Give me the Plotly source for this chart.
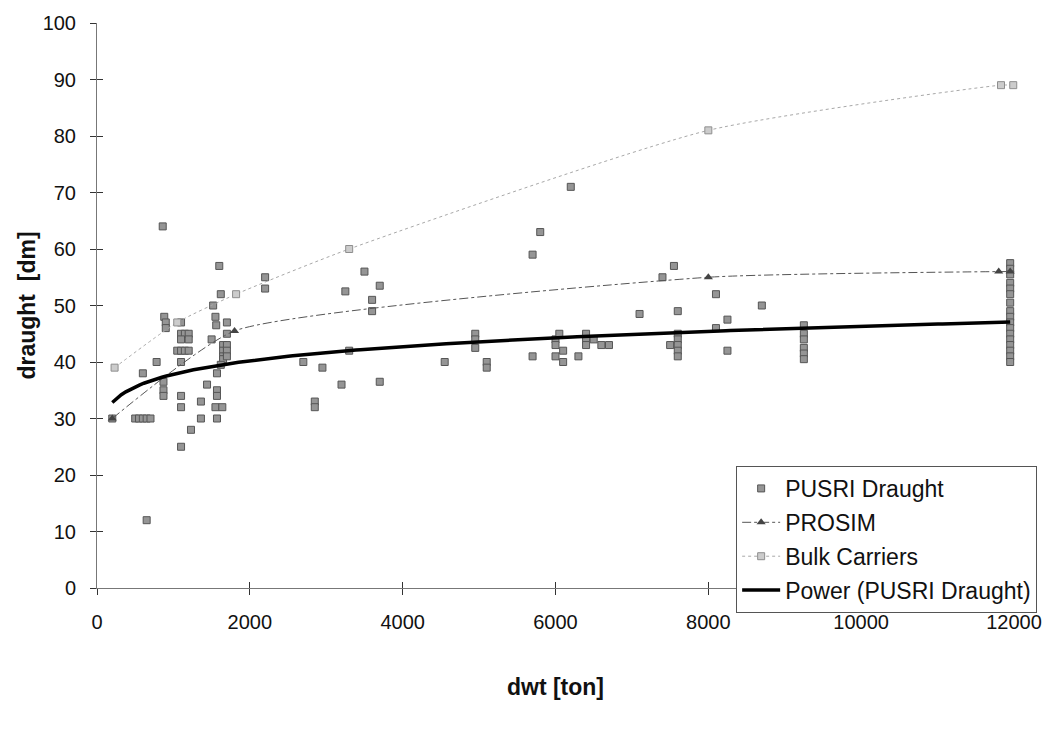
import numpy as np
import plotly.graph_objects as go

# PUSRI fleet: deadweight [ton] and draught [dm]
pusri_dwt = [
    200, 500, 550, 600, 650, 700, 650, 600, 780, 860,
    880, 900, 900, 870, 870, 870, 1100, 1100, 1150, 1200,
    1100, 1200, 1050, 1100, 1150, 1200, 1100, 1100, 1100, 1100,
    1230, 1360, 1360, 1440, 1520, 1550, 1560, 1500, 1600, 1620,
    1650, 1650, 1650, 1650, 1620, 1570, 1570, 1570, 1550, 1570,
    1640, 1700, 1700, 1700, 1700, 1700, 2200, 2200,
    2700, 2850, 2850, 2950, 3200, 3250, 3300, 3500, 3600, 3600,
    3700, 3700, 4550, 4950, 4950, 4950, 5100, 5100, 5700, 5800,
    5700, 6000, 6000, 6050, 6000, 6100, 6100, 6200, 6300, 6400,
    6400, 6400, 6500, 6600, 6700, 7100, 7400, 7500, 7550, 7600,
    7600, 7600, 7600, 7600, 7600, 8100, 8100, 8250, 8250, 8700,
    9250, 9250, 9250, 9250, 9250, 9250,
    11950, 11950, 11950, 11950, 11950, 11950, 11950, 11950, 11950, 11950,
    11950, 11950, 11950, 11950, 11950, 11950, 11950,
]
pusri_draught = [
    30, 30, 30, 30, 30, 30, 12, 38, 40, 64,
    48, 47, 46, 36.5, 35, 34, 47, 45, 45, 45,
    44, 44, 42, 42, 42, 42, 40, 34, 32, 25,
    28, 33, 30, 36, 50, 48, 46.5, 44, 57, 52,
    43, 42, 41, 40.5, 39.5, 38, 35, 34, 32, 30,
    32, 47, 45, 43, 42, 41, 55, 53,
    40, 33, 32, 39, 36, 52.5, 42, 56, 51, 49,
    53.5, 36.5, 40, 45, 44, 42.5, 40, 39, 59, 63,
    41, 44, 43, 45, 41, 40, 42, 71, 41, 45,
    44, 43, 44, 43, 43, 48.5, 55, 43, 57, 49,
    45, 44, 43, 42, 41, 52, 46, 47.5, 42, 50,
    46.5, 45, 44, 42.5, 41.5, 40.5,
    57.5, 56.5, 55.5, 54, 53, 52, 50.5, 49, 48, 47,
    46, 45, 44, 43, 42, 41, 40,
]

# PROSIM design points
prosim_dwt = [200, 1800, 8000, 11800, 11950]
prosim_draught = [30, 45.5, 55, 56, 56]

# Bulk carriers
bulk_dwt = [230, 1050, 1820, 3300, 8000, 11830, 11990]
bulk_draught = [39, 47, 52, 60, 81, 89, 89]

# Power trendline of the PUSRI draught: y = a * x^b
trend_a = 20.6
trend_b = 0.088
fit_x = np.linspace(min(pusri_dwt), max(pusri_dwt), 200)
fit_y = trend_a * fit_x ** trend_b

x_ticks = [0, 2000, 4000, 6000, 8000, 10000, 12000]
x_tick_text = ["0", "2000", "4000", "6000", "8000", "10000", "12000"]
y_ticks = [0, 10, 20, 30, 40, 50, 60, 70, 80, 90, 100]

font_family = "Liberation Sans, Arial, sans-serif"

fig = go.Figure()

fig.add_trace(go.Scatter(
    x=pusri_dwt, y=pusri_draught, mode="markers", name="PUSRI Draught",
    legendgroup="a", cliponaxis=False,
    marker=dict(symbol="square", size=7, color="#959595",
                line=dict(color="#555555", width=1)),
))
fig.add_trace(go.Scatter(
    x=prosim_dwt, y=prosim_draught, mode="lines+markers", name="PROSIM",
    legendgroup="b", cliponaxis=False,
    line=dict(color="#555555", width=1, dash="dashdot", shape="spline", smoothing=0.5),
    marker=dict(symbol="triangle-up", size=8, color="#444444"),
))
fig.add_trace(go.Scatter(
    x=bulk_dwt, y=bulk_draught, mode="lines+markers", name="Bulk Carriers",
    legendgroup="c", cliponaxis=False,
    line=dict(color="#a8a8a8", width=1, dash="dot", shape="spline", smoothing=0.6),
    marker=dict(symbol="square", size=7, color="#cccccc",
                line=dict(color="#8e8e8e", width=1)),
))
fig.add_trace(go.Scatter(
    x=fit_x, y=fit_y, mode="lines", name="Power (PUSRI Draught)",
    legendgroup="d",
    line=dict(color="#000000", width=3.5),
))

axis_common = dict(
    showgrid=False, zeroline=False, showline=True,
    linecolor="#777777", linewidth=1,
    ticks="outside", ticklen=6, tickcolor="#333333", tickwidth=1,
    tickfont=dict(family=font_family, size=20, color="#111111"),
)

fig.update_layout(
    width=1054, height=729,
    margin=dict(l=97, r=37, t=22, b=141),
    paper_bgcolor="white", plot_bgcolor="white",
    font=dict(family=font_family, size=20, color="#111111"),
    xaxis=dict(
        range=[0, 12000], tickvals=x_ticks, ticktext=x_tick_text,
        ticklabelstandoff=10,
        title=dict(text="<b>dwt [ton]</b>", font=dict(size=23), standoff=46),
        **axis_common,
    ),
    yaxis=dict(
        range=[0, 100], tickvals=y_ticks,
        ticklabelstandoff=10,
        title=dict(text="<b>draught  [dm]</b>", font=dict(size=23), standoff=0),
        **axis_common,
    ),
    # overlaid axes carrying the inner half of the crossing tick marks
    xaxis2=dict(range=[0, 12000], overlaying="x", side="bottom", anchor="y",
                tickvals=x_ticks,
                ticks="inside", ticklen=6, tickcolor="#333333",
                showticklabels=False, showgrid=False, zeroline=False, showline=False),
    yaxis2=dict(range=[0, 100], overlaying="y", side="left", anchor="x",
                tickvals=y_ticks,
                ticks="inside", ticklen=6, tickcolor="#333333",
                showticklabels=False, showgrid=False, zeroline=False, showline=False),
    legend=dict(
        x=0.697, y=0.216, xanchor="left", yanchor="top",
        bgcolor="white", bordercolor="#555555", borderwidth=1,
        font=dict(family=font_family, size=23, color="#111111"),
        tracegroupgap=1, itemwidth=38,
    ),
    showlegend=True,
)

# invisible trace that activates the overlaid tick axes
fig.add_trace(go.Scatter(x=[0], y=[0], xaxis="x2", yaxis="y2", mode="markers",
                         marker=dict(opacity=0), showlegend=False, hoverinfo="skip"))

fig.write_html("out.html")
